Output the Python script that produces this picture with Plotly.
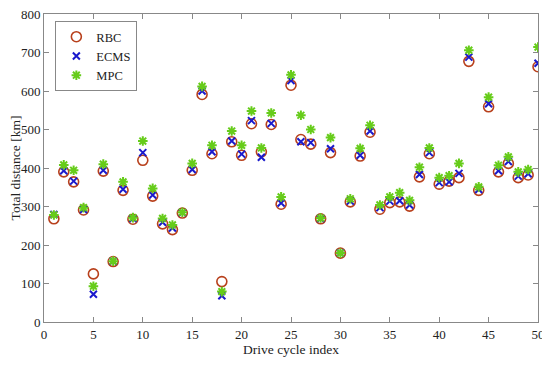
import plotly.graph_objects as go

cycle_index = list(range(1, 51))
rbc = [268, 390, 364, 291, 125, 392, 157, 342, 267, 420,
       327, 255, 240, 283, 394, 591, 437, 105, 468, 433,
       515, 442, 513, 306, 615, 474, 462, 268, 440, 179,
       312, 431, 493, 293, 310, 312, 301, 377, 437, 358,
       366, 375, 677, 342, 559, 390, 412, 375, 382, 663]
ecms = [279, 393, 366, 292, 72, 394, 158, 345, 269, 440,
        330, 259, 244, 284, 396, 600, 442, 68, 470, 436,
        523, 428, 516, 309, 627, 468, 466, 269, 450, 179,
        314, 433, 496, 297, 314, 315, 304, 383, 440, 362,
        364, 386, 688, 344, 567, 393, 417, 379, 385, 672]
mpc = [278, 408, 394, 297, 93, 410, 158, 364, 271, 470,
       347, 269, 252, 285, 412, 612, 459, 79, 496, 459,
       548, 452, 543, 325, 642, 537, 500, 270, 479, 179,
       320, 451, 511, 304, 325, 336, 316, 402, 452, 375,
       380, 412, 706, 351, 584, 407, 429, 390, 396, 714]

x_ticks = list(range(0, 51, 5))
y_ticks = list(range(0, 801, 100))

font_family = "Liberation Serif, DejaVu Serif, serif"

fig = go.Figure()
fig.add_trace(go.Scatter(
    x=cycle_index, y=rbc, mode="markers", name="RBC",
    marker=dict(symbol="circle-open", size=10, color="#b8401c",
                line=dict(width=1.6, color="#b8401c"))))
fig.add_trace(go.Scatter(
    x=cycle_index, y=ecms, mode="markers", name="ECMS",
    marker=dict(symbol="x-thin-open", size=7, color="#1a1acc",
                line=dict(width=2, color="#1a1acc"))))
fig.add_trace(go.Scatter(
    x=cycle_index, y=mpc, mode="markers", name="MPC",
    marker=dict(symbol="asterisk-open", size=8, color="#66cc1a",
                line=dict(width=2, color="#66cc1a"))))

axis_common = dict(
    showline=True, linecolor="#888888", linewidth=1, mirror="ticks",
    ticks="inside", ticklen=5, tickcolor="#888888", showgrid=False,
    zeroline=False, automargin=False, ticklabeloverflow="allow",
    tickfont=dict(family=font_family, size=13, color="#222222"),
)

fig.update_xaxes(range=[0, 50], tickvals=x_ticks,
                 title=dict(text="Drive cycle index", standoff=2,
                            font=dict(family=font_family, size=13.5, color="#222222")),
                 **axis_common)
fig.update_yaxes(range=[0, 800], tickvals=y_ticks,
                 title=dict(text="Total distance [km]", standoff=2,
                            font=dict(family=font_family, size=13.5, color="#222222")),
                 **axis_common)

# page body has an 8px default margin, so the figure is sized to fill 542x360
fig.update_layout(
    width=542, height=360,
    margin=dict(l=36, r=12, t=6, b=46),
    plot_bgcolor="white", paper_bgcolor="white",
    legend=dict(x=0.023, y=0.977, xanchor="left", yanchor="top",
                bordercolor="#888888", borderwidth=1, bgcolor="white",
                font=dict(family=font_family, size=12.5, color="#222222"),
                itemwidth=30, tracegroupgap=0),
    showlegend=True,
)

fig.write_html("out.html")
